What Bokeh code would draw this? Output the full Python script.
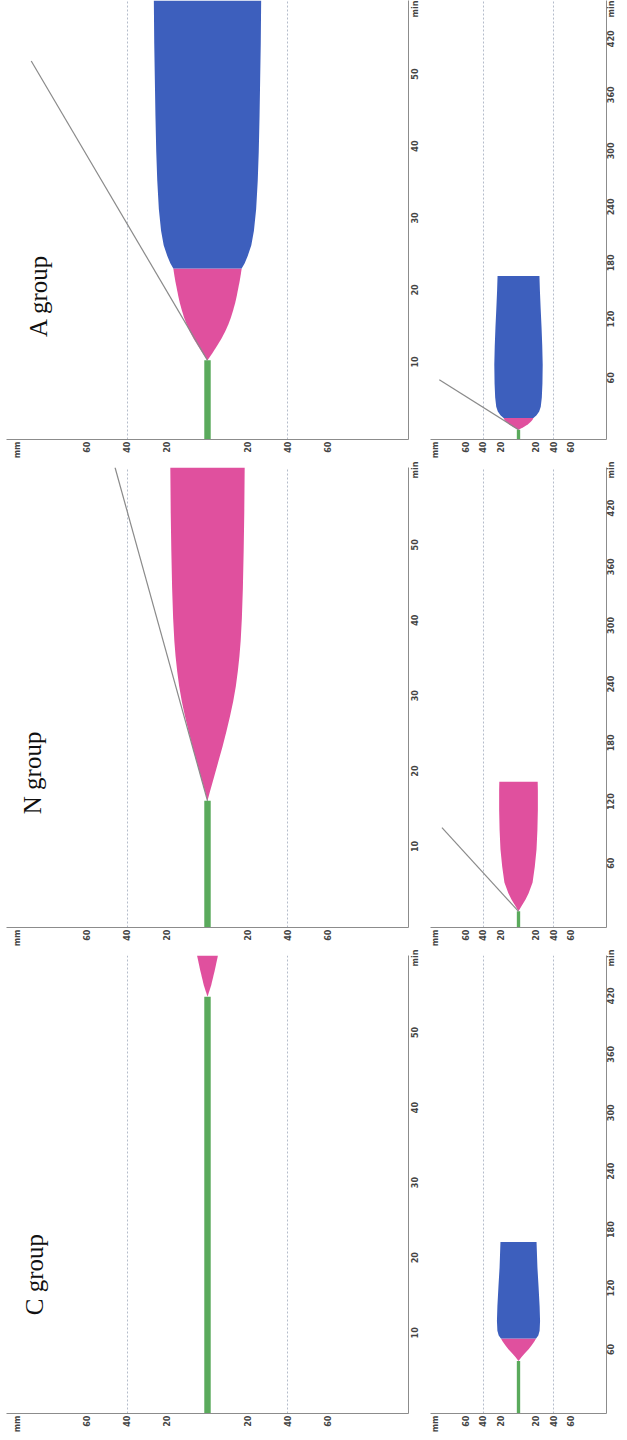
from math import pi
from bokeh.plotting import figure
from bokeh.layouts import column, row
from bokeh.models import Range1d, FixedTicker
from bokeh.core.properties import value
from bokeh.embed import file_html
from bokeh.resources import INLINE

# ---------------- data ----------------
group_names = ["A group", "N group", "C group"]

amp_ticks = [95, 60, 40, 20, -20, -40, -60]
amp_labels = ["mm", "60", "40", "20", "20", "40", "60"]
grid_ticks = [40, -40]

big_time_ticks = [10, 20, 30, 40, 50]
big_time_labels = ["10", "20", "30", "40", "50"]
small_time_ticks = [60, 120, 180, 240, 300, 360, 420]
small_time_labels = ["60", "120", "180", "240", "300", "360", "420"]

# A group, 0-60 min panel
A_R = 11.0
A_pink_t = [11.0, 12, 13, 14, 15, 16, 17, 18, 19, 20, 21, 22, 23, 23.75]
A_pink_w = [0, 2.4, 4.7, 6.9, 8.8, 10.4, 11.7, 12.8, 13.8, 14.6, 15.3, 16.0, 16.6, 17.0]
A_blue_t = [23.75, 24.5, 25.5, 27, 29, 32, 36, 40, 45, 50, 55, 61]
A_blue_w = [17.0, 18.5, 20, 21.8, 23.1, 24.2, 25, 25.5, 25.9, 26.2, 26.5, 26.7]
A_alpha_t = [11.0, 52.6]
A_alpha_a = [0, 87.7]

# A group, long panel
As_R = 10.5
As_pink_t = [10.5, 13, 16, 19, 21, 23]
As_pink_w = [0, 5.5, 10.5, 14, 15.8, 17]
As_blue_t = [23, 26, 30, 35, 45, 60, 80, 100, 120, 140, 160, 175]
As_blue_w = [17, 20.5, 23.5, 25.3, 26.5, 27.2, 27.5, 27.0, 26.2, 25.2, 24.3, 23.8]
As_alpha_t = [10.5, 64]
As_alpha_a = [0, 90]

# N group, 0-60 min panel
N_R = 16.8
N_pink_t = [16.8, 18, 20, 22, 24, 26, 28, 30, 32, 34, 36, 38, 41, 45, 50, 55, 61]
N_pink_w = [0, 1.2, 3.3, 5.4, 7.5, 9.4, 11.2, 12.8, 14.1, 15.1, 15.9, 16.5, 17.1, 17.6, 18.0, 18.3, 18.5]
N_alpha_t = [16.8, 61]
N_alpha_a = [0, 46]

# N group, long panel
Ns_R = 16.5
Ns_pink_t = [16.5, 22, 28.6, 35, 46, 62, 80, 100, 120, 140, 149]
Ns_pink_w = [0, 3.5, 8, 11.5, 16, 18.5, 20.5, 21.5, 22, 22, 21.8]
Ns_alpha_t = [16.5, 102]
Ns_alpha_a = [0, 87]

# C group, 0-60 min panel
C_R = 55.5
C_pink_t = [55.5, 57, 59, 61]
C_pink_w = [0, 1.8, 3.6, 5.2]

# C group, long panel
Cs_R = 54
Cs_pink_t = [54, 58, 62, 66, 70, 74, 77]
Cs_pink_w = [0, 3.5, 7.5, 11.5, 15, 18, 20]
Cs_blue_t = [77, 80, 85, 95, 110, 130, 150, 176]
Cs_blue_w = [20, 22.5, 24, 24.5, 24, 22.8, 21.5, 20.5]

# ---------------- styles ----------------
PINK = "#e0509e"
BLUE = "#3d5fbd"
GREEN = "#5aaa5c"
GRAY = "#8a8a8a"
AXIS = "#8c8c8c"
LABEL_FONT = "DejaVu Sans Condensed"


def make_fig(big, frame_h, top, bottom, t_end, min_pos):
    if big:
        p = figure(frame_width=402, frame_height=frame_h, min_border_left=6,
                   min_border_right=20, min_border_top=top, min_border_bottom=bottom,
                   x_range=Range1d(100, -100), y_range=Range1d(0, t_end),
                   x_axis_location="below", y_axis_location="right",
                   output_backend="svg", toolbar_location=None)
        tt = big_time_ticks + [min_pos]
        tl = big_time_labels + ["min"]
        y_standoff = 7
    else:
        p = figure(frame_width=176, frame_height=frame_h, min_border_left=2,
                   min_border_right=18, min_border_top=top, min_border_bottom=bottom,
                   x_range=Range1d(100, -100), y_range=Range1d(0, t_end),
                   x_axis_location="below", y_axis_location="right",
                   output_backend="svg", toolbar_location=None)
        tt = small_time_ticks + [min_pos]
        tl = small_time_labels + ["min"]
        y_standoff = 5
    p.outline_line_color = None
    p.background_fill_color = "white"
    p.border_fill_color = "white"
    p.xaxis.ticker = FixedTicker(ticks=amp_ticks)
    p.xaxis.major_label_overrides = dict(zip(amp_ticks, amp_labels))
    p.yaxis.ticker = FixedTicker(ticks=tt)
    p.yaxis.major_label_overrides = dict(zip(tt, tl))
    for ax in (p.xaxis, p.yaxis):
        ax.major_label_orientation = pi / 2
        ax.major_tick_out = 0
        ax.major_tick_in = 0
        ax.minor_tick_out = 0
        ax.minor_tick_in = 0
        ax.axis_line_color = AXIS
        ax.axis_line_width = 1
        ax.major_label_text_font = LABEL_FONT
        ax.major_label_text_font_style = "bold"
        ax.major_label_text_font_size = "9px"
        ax.major_label_text_color = "#444444"
    p.xaxis.major_label_standoff = 2
    p.yaxis.major_label_standoff = y_standoff
    p.ygrid.visible = False
    p.xgrid.ticker = FixedTicker(ticks=grid_ticks)
    p.xgrid.grid_line_color = "#b4bccb"
    p.xgrid.grid_line_dash = "2 2"
    p.xgrid.grid_line_width = 1
    return p


def band(p, t, w, color):
    p.harea(x1=list(w), x2=[-v for v in w], y=list(t), fill_color=color,
            fill_alpha=1.0)


def green(p, R, half):
    p.harea(x1=[half, half], x2=[-half, -half], y=[0, R], fill_color=GREEN)


def alpha_line(p, t, a):
    p.line(x=list(a), y=list(t), line_color=GRAY, line_width=1.2)


def title(p, text, x, y):
    p.text(x=[x], y=[y], text=[text], angle=pi / 2, text_align="center",
           text_baseline="middle", text_font=value("Liberation Serif"),
           text_font_size="25px", text_color="#111111")


# Row A
pa = make_fig(True, 439, 0, 22, 61, 59.3)
green(pa, A_R, 1.6)
band(pa, A_pink_t, A_pink_w, PINK)
band(pa, A_blue_t, A_blue_w, BLUE)
alpha_line(pa, A_alpha_t, A_alpha_a)
title(pa, group_names[0], 84, 20)

pas = make_fig(False, 439, 0, 22, 470, 462)
green(pas, As_R, 1.9)
band(pas, As_pink_t, As_pink_w, PINK)
band(pas, As_blue_t, As_blue_w, BLUE)
alpha_line(pas, As_alpha_t, As_alpha_a)

# Row N
pn = make_fig(True, 460, 6, 22, 61, 60)
green(pn, N_R, 1.6)
band(pn, N_pink_t, N_pink_w, PINK)
alpha_line(pn, N_alpha_t, N_alpha_a)
title(pn, group_names[1], 87, 20.5)

pns = make_fig(False, 460, 6, 22, 470, 463)
green(pns, Ns_R, 1.9)
band(pns, Ns_pink_t, Ns_pink_w, PINK)
alpha_line(pns, Ns_alpha_t, Ns_alpha_a)

# Row C
pc = make_fig(True, 458, 6, 22, 61, 60)
green(pc, C_R, 1.6)
band(pc, C_pink_t, C_pink_w, PINK)
title(pc, group_names[2], 86, 18.5)

pcs = make_fig(False, 458, 6, 22, 470, 463)
green(pcs, Cs_R, 1.9)
band(pcs, Cs_pink_t, Cs_pink_w, PINK)
band(pcs, Cs_blue_t, Cs_blue_w, BLUE)

layout = column(row(pa, pas), row(pn, pns), row(pc, pcs))

open("out.html", "w").write(file_html(layout, INLINE))
